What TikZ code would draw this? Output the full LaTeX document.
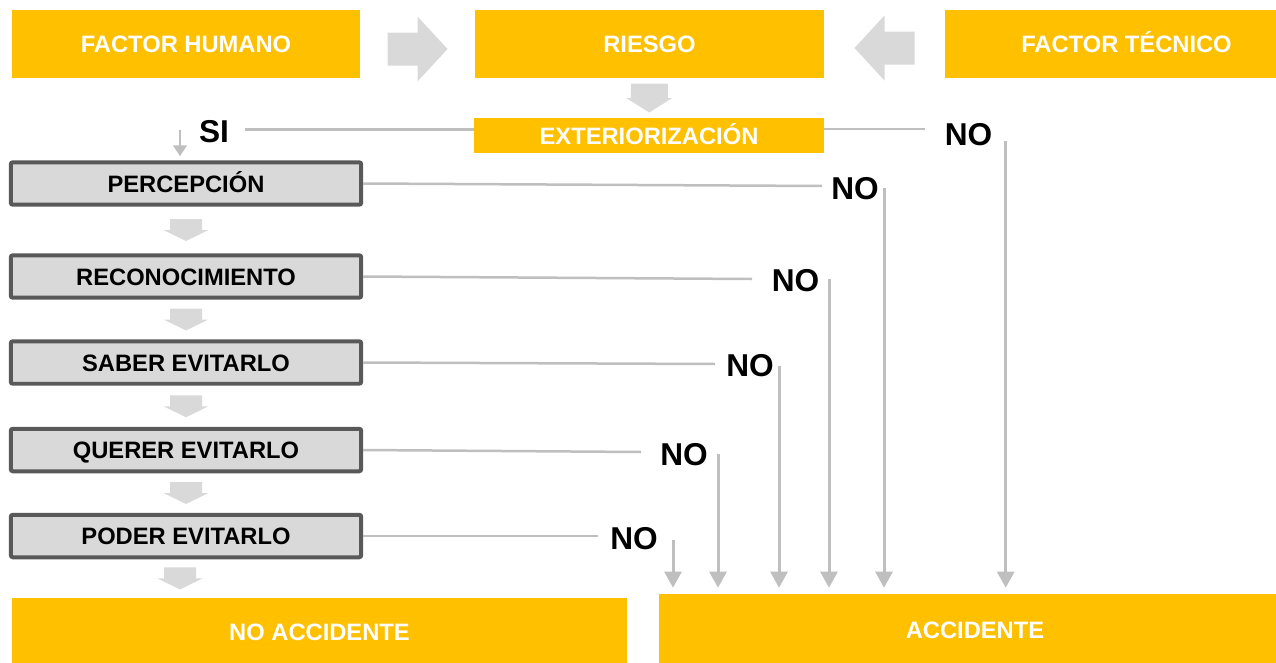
\documentclass[tikz,border=0pt]{standalone}
\usepackage{fontspec}
\setmainfont{Liberation Sans}
\usetikzlibrary{arrows.meta,calc}
\definecolor{naranja}{HTML}{FFC000}
\definecolor{grisborde}{HTML}{595959}
\definecolor{grisfondo}{HTML}{D9D9D9}
\definecolor{grislinea}{HTML}{BFBFBF}
\tikzset{
  caja/.style={fill=naranja, text=white, inner sep=0pt,
    font=\fontsize{13.5}{16}\selectfont\bfseries, text height=9.7pt, text depth=0pt},
  paso/.style={draw=grisborde, line width=0.08cm, rounded corners=1.2pt, fill=grisfondo,
    minimum width=7.01cm, minimum height=0.85cm, inner sep=0pt,
    font=\fontsize{13.5}{16}\selectfont\bfseries, text height=9.7pt, text depth=0pt},
  etiqueta/.style={inner sep=0pt, font=\fontsize{18}{20}\selectfont\bfseries,
    text height=12.9pt, text depth=0pt},
  linea/.style={draw=grislinea, line width=0.05cm},
  flecha/.style={draw=grislinea, line width=0.06cm, shorten >=0.12cm,
    -{Triangle[width=0.34cm,length=0.32cm]}},
  bajada/.pic={\fill[grisfondo] (-16,-11) -- (16,-11) -- (16,0) -- (22.5,0)
    -- (0,11) -- (-22.5,0) -- (-16,0) -- cycle;},
  bajadagrande/.pic={\fill[grisfondo] (-18.5,-14.5) -- (18.5,-14.5) -- (18.5,0) -- (23,0)
    -- (0,14.5) -- (-23,0) -- (-18.5,0) -- cycle;},
  lateral/.pic={\fill[grisfondo] (-30,-16.5) -- (0,-16.5) -- (0,-32.5) -- (30,0)
    -- (0,32.5) -- (0,16.5) -- (-30,16.5) -- cycle;}
}
\begin{document}
\begin{tikzpicture}[x=0.02cm,y=-0.02cm]
\useasboundingbox (0,0) rectangle (1276,663);
% fila superior
\node[caja, minimum width=6.96cm, minimum height=1.36cm] (humano) at (186,44) {FACTOR HUMANO};
\node[caja, minimum width=6.98cm, minimum height=1.36cm] (riesgo) at (649.5,44) {RIESGO};
\node[caja, minimum width=7.26cm, minimum height=1.36cm] (tecnico) at (1126.5,44) {FACTOR TÉCNICO};
\pic at ($(humano.east)!0.5!(riesgo.west)+(0,5)$) {lateral};
\pic[xscale=-1] at ($(riesgo.east)!0.5!(tecnico.west)+(0,4)$) {lateral};
\node[caja, minimum width=7cm, minimum height=0.7cm] (ext) at (649,135.5) {EXTERIORIZACIÓN};
\pic at ($(riesgo.south)!0.5!(ext.north)$) {bajadagrande};
% cadena de pasos
\node[paso] (perc) at (186,183.5) {PERCEPCIÓN};
\node[paso] (reco) at (186,276.5) {RECONOCIMIENTO};
\node[paso] (saber) at (186,362.5) {SABER EVITARLO};
\node[paso] (querer) at (186,450) {QUERER EVITARLO};
\node[paso] (poder) at (186,536) {PODER EVITARLO};
\node[caja, minimum width=12.32cm, minimum height=1.36cm] (noacc) at (319.5,632) {NO ACCIDENTE};
\node[caja, minimum width=12.64cm, minimum height=1.44cm] (acc) at (975,630) {ACCIDENTE};
\pic at ($(perc.south)!0.5!(reco.north)$) {bajada};
\pic at ($(reco.south)!0.5!(saber.north)$) {bajada};
\pic at ($(saber.south)!0.5!(querer.north)$) {bajada};
\pic at ($(querer.south)!0.5!(poder.north)$) {bajada};
\pic at ($(poder.south)!0.5!(poder.south |- noacc.north)+(-6,0)$) {bajada};
% SI
\node[etiqueta] (si) at (214,131) {SI};
\coordinate (s1) at (245,129.5);
\draw[linea] (s1) -- (s1 -| ext.west);
\coordinate (s0) at (180,130);
\draw[draw=grislinea, line width=0.05cm, shorten >=0.08cm, -{Triangle[width=0.27cm,length=0.22cm]}]
  (s0) -- (s0 |- perc.north);
% ramas NO
\node[etiqueta] (no0) at (968.5,134.5) {NO};
\node[etiqueta] (no1) at (855,188.5) {NO};
\node[etiqueta] (no2) at (795.5,280) {NO};
\node[etiqueta] (no3) at (750,365.5) {NO};
\node[etiqueta] (no4) at (684,454) {NO};
\node[etiqueta] (no5) at (634,538) {NO};
\coordinate (h0) at (925,129);
\coordinate (h1) at (822,186);
\coordinate (h2) at (752,279);
\coordinate (h3) at (715,364);
\coordinate (h4) at (641,452);
\coordinate (h5) at (598,536);
\draw[linea] (h0 -| ext.east) -- (h0);
\draw[linea] (perc.east) -- (h1);
\draw[linea] (reco.east) -- (h2);
\draw[linea] (saber.east) -- (h3);
\draw[linea] (querer.east) -- (h4);
\draw[linea] (poder.east) -- (h5);
\coordinate (v0) at (1005.7,141);
\coordinate (v1) at (884,188);
\coordinate (v2) at (829,279);
\coordinate (v3) at (779,366);
\coordinate (v4) at (718,454);
\coordinate (v5) at (673,540);
\draw[flecha] (v0) -- (v0 |- acc.north);
\draw[flecha] (v1) -- (v1 |- acc.north);
\draw[flecha] (v2) -- (v2 |- acc.north);
\draw[flecha] (v3) -- (v3 |- acc.north);
\draw[flecha] (v4) -- (v4 |- acc.north);
\draw[flecha] (v5) -- (v5 |- acc.north);
\end{tikzpicture}
\end{document}
